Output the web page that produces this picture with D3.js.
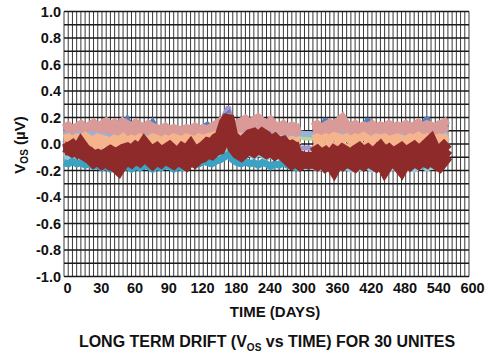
<!DOCTYPE html>
<html><head><meta charset="utf-8">
<script src="https://cdn.jsdelivr.net/npm/d3@7"></script>
<style>body{margin:0;background:#fff} svg{display:block}</style>
</head><body>
<svg id="c" width="500" height="357"></svg>
<script>
// ---- data ----
const xLabels = ["0","30","60","90","120","180","240","300","360","420","480","540","600"];
const yTicks = [1.0,0.8,0.6,0.4,0.2,0.0,-0.2,-0.4,-0.6,-0.8,-1.0];

const unitLavender = [0.03,0.0,-0.02,-0.04,-0.03,-0.05,-0.04,-0.06,-0.05,-0.07,
 -0.06,-0.05,-0.07,-0.06,-0.05,-0.04,-0.06,-0.05,-0.04,-0.06,
 -0.05,-0.04,-0.06,-0.05,-0.04,-0.06,-0.05,-0.04,-0.06,-0.05,
 -0.04,-0.05,-0.03,-0.04,-0.02,0.0,0.03,0.08,0.22,0.28,
 0.06,0.0,-0.02,-0.03,-0.04,-0.03,-0.05,-0.04,-0.06,-0.05,
 -0.04,-0.06,-0.05,-0.04,-0.03,-0.04,-0.03,-0.03,-0.03,-0.04,
 -0.05,-0.04,-0.06,-0.05,-0.04,-0.06,-0.05,-0.04,-0.06,-0.05,
 -0.04,-0.06,-0.05,-0.04,-0.06,-0.05,-0.04,-0.06,-0.05,-0.04,
 -0.06,-0.05,-0.04,-0.06,-0.05,-0.04,-0.06,-0.05,-0.04,-0.03,-0.02,0.0];

const unitLightBlue = [-0.1,-0.09,-0.11,-0.1,-0.12,-0.1,-0.11,-0.13,-0.12,-0.14,
 -0.15,-0.17,-0.16,-0.18,-0.16,-0.15,-0.17,-0.15,-0.16,-0.14,
 -0.15,-0.17,-0.15,-0.16,-0.14,-0.15,-0.17,-0.15,-0.16,-0.14,
 -0.13,-0.12,-0.11,-0.1,-0.09,-0.1,-0.08,-0.09,-0.05,-0.03,
 -0.07,-0.08,-0.06,-0.08,-0.07,-0.09,-0.07,-0.08,-0.1,-0.08,
 -0.1,-0.09,-0.11,-0.12,-0.14,-0.15,-0.16,-0.17,-0.16,-0.17,
 -0.18,-0.17,-0.19,-0.17,-0.18,-0.16,-0.18,-0.17,-0.19,-0.17,
 -0.18,-0.16,-0.17,-0.19,-0.17,-0.18,-0.16,-0.19,-0.17,-0.18,
 -0.16,-0.18,-0.17,-0.19,-0.17,-0.16,-0.18,-0.17,-0.15,-0.16,-0.13,-0.1];

const unitTeal = [-0.14,-0.15,-0.13,-0.15,-0.14,-0.16,-0.15,-0.17,-0.16,-0.18,
 -0.17,-0.19,-0.18,-0.2,-0.18,-0.17,-0.19,-0.17,-0.18,-0.16,
 -0.17,-0.19,-0.17,-0.18,-0.16,-0.17,-0.19,-0.17,-0.18,-0.16,
 -0.15,-0.14,-0.15,-0.13,-0.14,-0.15,-0.13,-0.12,-0.1,-0.08,
 -0.12,-0.14,-0.15,-0.13,-0.15,-0.14,-0.16,-0.14,-0.15,-0.17,
 -0.15,-0.16,-0.14,-0.16,-0.17,-0.18,-0.17,-0.16,-0.15,-0.16,
 -0.15,-0.16,-0.14,-0.15,-0.16,-0.14,-0.15,-0.16,-0.14,-0.15,
 -0.16,-0.14,-0.15,-0.16,-0.14,-0.15,-0.16,-0.14,-0.15,-0.16,
 -0.14,-0.15,-0.16,-0.14,-0.15,-0.16,-0.14,-0.15,-0.13,-0.14,-0.12,-0.1];

const unitBlue = [0.12,0.11,0.12,0.11,0.12,0.11,0.12,0.11,0.12,0.11,
 0.12,0.11,0.12,0.11,0.14,0.19,0.13,0.11,0.12,0.11,
 0.12,0.17,0.12,0.11,0.12,0.11,0.12,0.11,0.12,0.11,
 0.12,0.11,0.12,0.13,0.15,0.12,0.13,0.15,0.2,0.23,
 0.14,0.12,0.13,0.12,0.13,0.12,0.13,0.12,0.13,0.12,
 0.11,0.12,0.11,0.12,0.11,0.12,0.11,null,null,0.12,
 0.11,0.12,0.19,0.12,0.11,0.12,0.11,0.12,0.11,0.12,
 0.11,0.12,0.19,0.12,0.11,0.12,0.11,0.12,0.11,0.12,
 0.11,0.12,0.11,0.12,0.11,0.13,0.2,0.12,0.11,0.12,0.13,0.15];

const unitGreen = [0.05,0.06,0.05,0.06,0.05,0.06,0.07,0.06,0.07,0.08,
 0.08,0.09,0.08,0.09,0.08,0.09,0.08,0.07,0.06,0.05,
 0.06,0.05,0.06,0.05,0.06,0.05,0.06,0.05,0.06,0.05,
 0.06,0.05,0.06,0.05,0.06,0.07,0.08,0.09,0.1,0.12,
 0.08,0.07,0.06,0.07,0.06,0.07,0.06,0.05,0.06,0.05,
 0.06,0.05,0.06,0.05,0.06,0.05,0.06,0.05,0.05,0.05,
 0.06,0.05,0.07,0.06,0.07,0.08,0.09,0.07,0.06,0.07,
 0.06,0.07,0.06,0.07,0.06,0.07,0.08,0.09,0.07,0.06,
 0.07,0.06,0.07,0.06,0.07,0.06,0.07,0.08,0.07,0.09,0.07,0.06];

const unitSteelBlue = [0.07,0.08,0.09,0.08,0.09,0.08,0.09,0.08,0.09,0.08,
 0.08,0.07,0.08,0.07,0.08,0.07,0.08,0.07,0.08,0.07,
 0.08,0.07,0.08,0.07,0.08,0.07,0.08,0.07,0.08,0.07,
 0.08,0.07,0.08,0.07,0.08,0.09,0.1,0.12,0.15,0.17,
 0.1,0.09,0.08,0.09,0.08,0.09,0.08,0.07,0.08,0.07,
 0.08,0.07,0.08,0.07,0.08,0.07,0.08,0.075,0.075,0.07,
 0.08,0.07,0.08,0.07,0.08,0.07,0.08,0.07,0.08,0.07,
 0.08,0.07,0.08,0.07,0.08,0.07,0.08,0.07,0.08,0.07,
 0.08,0.07,0.08,0.07,0.08,0.07,0.08,0.07,0.08,0.07,0.08,0.09];

const unitPinkA = [0.12,0.14,0.11,0.13,0.15,0.12,0.14,0.16,0.13,0.15,
 0.17,0.14,0.16,0.13,0.17,0.15,0.13,0.16,0.14,0.12,
 0.15,0.13,0.12,0.11,0.13,0.1,0.12,0.11,0.1,0.12,
 0.11,0.13,0.1,0.12,0.11,0.13,0.15,0.17,0.19,0.2,
 0.16,0.14,0.17,0.19,0.16,0.18,0.2,0.17,0.15,0.18,
 0.14,0.13,0.15,0.12,0.14,0.12,0.13,null,null,0.13,
 0.15,0.12,0.14,0.16,0.13,0.17,0.2,0.15,0.13,0.15,
 0.12,0.14,0.13,0.15,0.12,0.14,0.13,0.15,0.12,0.14,
 0.13,0.15,0.12,0.14,0.16,0.13,0.15,0.14,0.12,0.15,0.16,0.18];

const unitPinkB = [0.11,0.12,0.11,0.13,0.12,0.12,0.13,0.12,0.13,0.11,
 0.12,0.1,0.11,0.09,0.12,0.1,0.08,0.11,0.09,0.1,
 0.12,0.09,0.1,0.08,0.09,0.11,0.08,0.1,0.09,0.08,
 0.1,0.09,0.11,0.08,0.09,0.1,0.11,0.12,0.15,0.16,
 0.12,0.11,0.12,0.13,0.12,0.13,0.12,0.14,0.12,0.13,
 0.11,0.1,0.11,0.09,0.1,0.09,0.1,null,null,0.1,
 0.11,0.09,0.1,0.12,0.1,0.11,0.13,0.11,0.1,0.09,
 0.11,0.1,0.09,0.11,0.1,0.12,0.1,0.09,0.11,0.1,
 0.12,0.1,0.09,0.11,0.1,0.12,0.1,0.11,0.09,0.11,0.12,0.13];

const unitPeachA = [0.04,0.05,0.03,0.05,0.04,0.06,0.04,0.03,0.05,0.04,
 0.03,0.02,0.04,0.03,0.05,0.02,0.04,0.03,0.05,0.04,
 0.03,0.05,0.04,0.02,0.04,0.03,0.05,0.04,0.03,0.05,
 0.04,0.03,0.05,0.04,0.05,0.06,0.07,0.08,0.1,0.1,
 0.07,0.06,0.05,0.06,0.05,0.06,0.05,0.04,0.05,0.04,
 0.03,0.04,0.03,0.02,0.03,0.02,0.03,null,null,0.04,
 0.05,0.03,0.05,0.04,0.06,0.05,0.04,0.05,0.03,0.05,
 0.04,0.06,0.04,0.03,0.05,0.04,0.05,0.03,0.04,0.05,
 0.04,0.03,0.05,0.04,0.06,0.04,0.05,0.03,0.04,0.05,0.04,0.06];

const unitPeachB = [0.01,0.0,0.02,-0.01,0.01,0.0,-0.01,0.0,-0.02,0.0,
 0.01,-0.01,0.0,0.01,-0.01,0.0,0.01,-0.01,0.0,0.01,
 0.0,-0.01,0.01,0.0,-0.02,0.0,0.01,-0.01,0.0,-0.01,
 0.0,0.01,-0.01,0.0,0.01,0.02,0.03,0.04,0.06,0.07,
 0.03,0.02,0.01,0.02,0.01,0.02,0.0,0.01,0.0,-0.01,
 -0.02,-0.01,-0.03,-0.02,-0.04,-0.03,-0.02,null,null,-0.01,
 -0.02,0.0,-0.03,-0.01,-0.02,0.0,-0.01,-0.03,-0.02,0.0,
 -0.01,-0.02,0.0,-0.01,-0.03,-0.01,0.0,-0.02,-0.01,0.0,
 -0.02,-0.01,0.0,-0.02,-0.01,0.0,-0.02,-0.01,0.0,-0.01,0.01,0.02];

const unitDarkRedB = [-0.05,-0.04,-0.06,-0.05,-0.07,-0.09,-0.11,-0.14,-0.12,-0.15,
 -0.13,-0.16,-0.17,-0.2,-0.15,-0.12,-0.14,-0.11,-0.13,-0.1,
 -0.12,-0.15,-0.12,-0.14,-0.11,-0.13,-0.15,-0.12,-0.14,-0.16,
 -0.12,-0.14,-0.11,-0.1,-0.07,-0.08,-0.05,-0.04,0.04,0.08,
 -0.03,-0.07,-0.09,-0.06,-0.04,-0.06,-0.03,-0.05,-0.07,-0.05,
 -0.08,-0.06,-0.09,-0.12,-0.15,-0.13,-0.16,-0.14,-0.15,-0.14,
 -0.16,-0.13,-0.17,-0.15,-0.2,-0.14,-0.16,-0.13,-0.15,-0.17,
 -0.14,-0.16,-0.13,-0.15,-0.17,-0.14,-0.2,-0.15,-0.13,-0.16,
 -0.2,-0.14,-0.16,-0.13,-0.15,-0.12,-0.14,-0.1,-0.15,-0.17,-0.13,-0.09];

const unitDarkRedC = [-0.04,-0.03,-0.05,-0.04,-0.03,-0.06,-0.08,-0.11,-0.1,-0.12,
 -0.1,-0.11,-0.12,-0.13,-0.1,-0.08,-0.1,-0.07,-0.09,-0.06,
 -0.08,-0.1,-0.08,-0.1,-0.07,-0.08,-0.1,-0.09,-0.08,-0.1,
 -0.07,-0.1,-0.08,-0.06,-0.03,-0.04,0.0,0.01,0.1,0.14,
 0.01,-0.02,-0.04,-0.01,0.01,0.01,0.01,0.02,0.0,-0.02,
 -0.02,-0.03,-0.04,-0.07,-0.08,-0.08,-0.09,-0.1,-0.1,-0.1,
 -0.11,-0.1,-0.12,-0.11,-0.13,-0.1,-0.1,-0.09,-0.11,-0.11,
 -0.09,-0.11,-0.09,-0.11,-0.11,-0.08,-0.13,-0.1,-0.1,-0.11,
 -0.12,-0.1,-0.1,-0.08,-0.1,-0.08,-0.07,-0.04,-0.1,-0.12,-0.08,-0.04];

const unitDarkRedA = [-0.02,-0.03,-0.01,-0.05,0.005,-0.04,-0.06,-0.09,-0.08,-0.1,
 -0.07,-0.05,-0.07,-0.06,-0.04,-0.03,-0.05,-0.02,-0.04,0.01,
 -0.03,-0.05,-0.03,-0.06,-0.04,-0.02,-0.05,-0.07,-0.03,-0.05,
 -0.01,-0.06,-0.04,-0.02,0.01,0.0,0.04,0.06,0.16,0.21,
 0.06,0.03,0.01,0.04,0.07,0.08,0.05,0.08,0.06,0.02,
 0.04,0.01,0.02,-0.02,-0.01,-0.03,-0.02,null,null,-0.07,
 -0.05,-0.08,-0.06,-0.09,-0.05,-0.07,-0.04,-0.06,-0.08,-0.05,
 -0.03,-0.06,-0.04,-0.07,-0.05,-0.02,-0.06,-0.04,-0.07,-0.05,
 -0.03,-0.06,-0.04,-0.02,-0.05,-0.03,0.0,0.03,-0.04,-0.06,-0.02,0.01];

// ---- styling (drawing order back to front) ----
const series = [
  {v: unitLavender,  c: "#a596cf", w: 5},
  {v: unitLightBlue, c: "#93cbdc", w: 7},
  {v: unitTeal,      c: "#3aa2c3", w: 7},
  {v: unitBlue,      c: "#4f7fbf", w: 5},
  {v: unitGreen,     c: "#b9d596", w: 6},
  {v: unitSteelBlue, c: "#98b2d8", w: 6},
  {v: unitPinkA,     c: "#d99a98", w: 8},
  {v: unitPinkB,     c: "#d99a98", w: 8},
  {v: unitPeachA,    c: "#f6b48c", w: 8},
  {v: unitPeachB,    c: "#f6b48c", w: 8},
  {v: unitDarkRedB,  c: "#8e2a2a", w: 11},
  {v: unitDarkRedC,  c: "#8e2a2a", w: 11},
  {v: unitDarkRedA,  c: "#8e2a2a", w: 11}
];

const svg = d3.select("#c");
const FONT = "'Liberation Sans', Arial, sans-serif";
const x = d3.scaleLinear().domain([0, 96]).range([64, 469]);
const y = d3.scaleLinear().domain([-1, 1]).range([276.5, 11.5]);

// grid
const grid = svg.append("g");
grid.selectAll("line.v").data(d3.range(0, 97)).join("line")
  .attr("x1", d => x(d)).attr("x2", d => x(d))
  .attr("y1", y(1)).attr("y2", y(-1))
  .attr("stroke", "#3a3a3a").attr("stroke-width", 1);
grid.selectAll("line.h").data(d3.range(-10, 11).map(d => d / 10)).join("line")
  .attr("x1", x(0)).attr("x2", x(96))
  .attr("y1", d => y(d)).attr("y2", d => y(d))
  .attr("stroke", "#1a1a1a").attr("stroke-width", 1.3);

// lines
const line = d3.line().defined(d => d != null).x((d, i) => x(i)).y(d => y(d));
svg.append("g").selectAll("path").data(series).join("path")
  .attr("d", s => line(s.v))
  .attr("fill", "none").attr("stroke", s => s.c).attr("stroke-width", s => s.w)
  .attr("stroke-linejoin", "miter").attr("stroke-miterlimit", 2).attr("stroke-linecap", "butt");

// axes
const yAxis = svg.append("g").attr("transform", `translate(${x(0)},0)`)
  .call(d3.axisLeft(y).tickValues(yTicks).tickFormat(d => d.toFixed(1)).tickSize(0).tickPadding(3));
yAxis.select(".domain").remove();
yAxis.selectAll("text").attr("font-family", FONT).attr("font-weight", "bold").attr("font-size", 14.5).attr("fill", "#111");

const xAxis = svg.append("g").attr("transform", `translate(3,${y(-1)})`)
  .call(d3.axisBottom(x).tickValues(d3.range(0, 97, 8)).tickFormat((d, i) => xLabels[i]).tickSize(0).tickPadding(6));
xAxis.select(".domain").remove();
xAxis.selectAll("text").attr("font-family", FONT).attr("font-weight", "bold").attr("font-size", 14.5).attr("fill", "#111");

// titles
svg.append("text").attr("x", 275).attr("y", 317).attr("text-anchor", "middle")
  .attr("font-family", FONT).attr("font-weight", "bold").attr("font-size", 15).attr("fill", "#111")
  .text("TIME (DAYS)");

const yt = svg.append("text").attr("transform", "translate(25,145) rotate(-90)").attr("text-anchor", "middle")
  .attr("font-family", FONT).attr("font-weight", "bold").attr("font-size", 15).attr("fill", "#111");
yt.append("tspan").text("V");
yt.append("tspan").attr("font-size", 10).attr("dy", 3).text("OS");
yt.append("tspan").attr("dy", -3).text(" (µV)");

const tt = svg.append("text").attr("x", 267).attr("y", 347).attr("text-anchor", "middle")
  .attr("font-family", FONT).attr("font-weight", "bold").attr("font-size", 16).attr("fill", "#111");
tt.append("tspan").text("LONG TERM DRIFT (V");
tt.append("tspan").attr("font-size", 10).attr("dy", 4).text("OS");
tt.append("tspan").attr("dy", -4).text(" vs TIME) FOR 30 UNITES");
</script>
</body></html>
